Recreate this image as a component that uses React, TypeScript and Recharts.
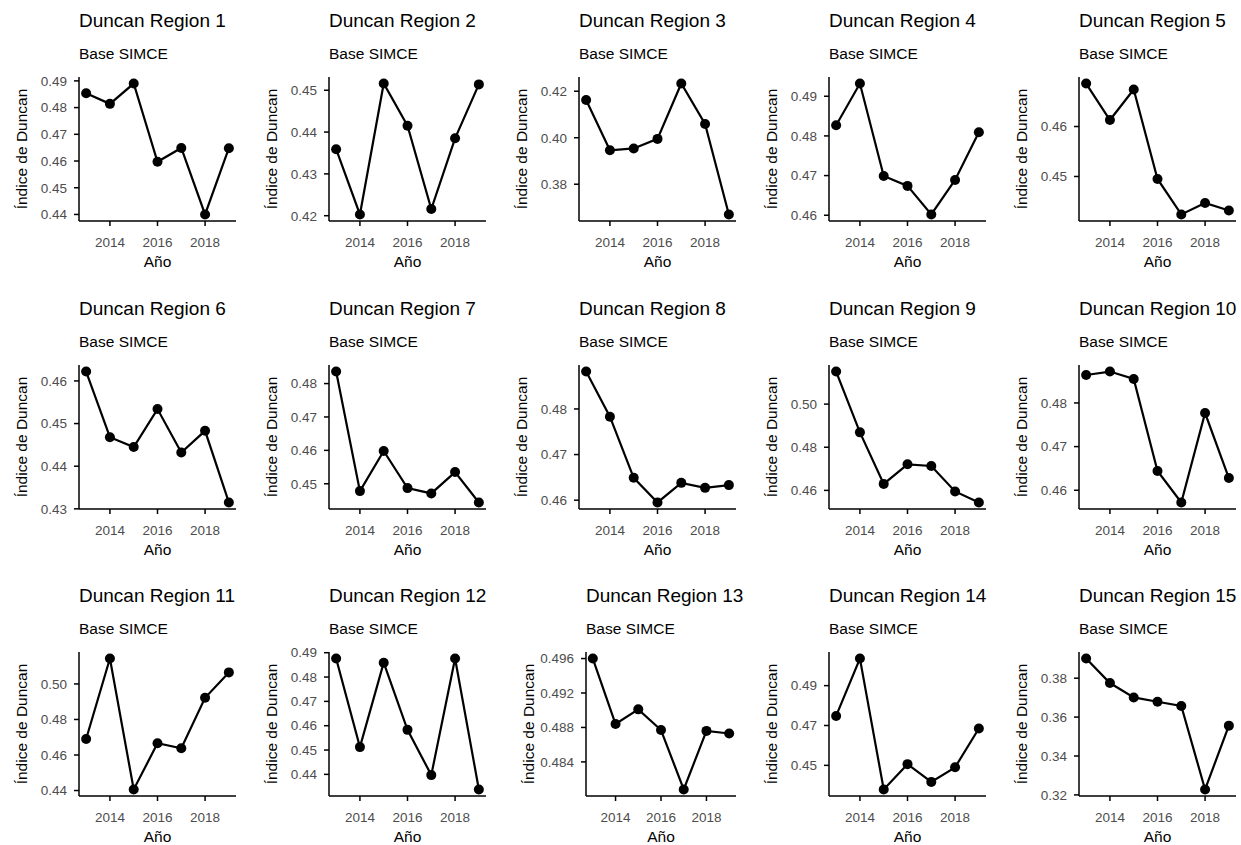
import { LineChart, Line, XAxis, YAxis } from "recharts";

const years = [2013, 2014, 2015, 2016, 2017, 2018, 2019];
const xTicks = [2014, 2016, 2018];
const subtitle = "Base SIMCE";
const xTitle = "Año";
const yTitle = "Índice de Duncan";

// Duncan index per region, 2013..2019
const region1 = [0.4854, 0.4814, 0.489, 0.4597, 0.4649, 0.44, 0.4648];
const region2 = [0.4359, 0.4203, 0.4516, 0.4415, 0.4216, 0.4385, 0.4514];
const region3 = [0.4162, 0.3946, 0.3954, 0.3995, 0.4233, 0.4059, 0.367];
const region4 = [0.4827, 0.4932, 0.4699, 0.4674, 0.4602, 0.4689, 0.4809];
const region5 = [0.4686, 0.4613, 0.4674, 0.4495, 0.4424, 0.4447, 0.4432];
const region6 = [0.4622, 0.4468, 0.4445, 0.4534, 0.4432, 0.4483, 0.4315];
const region7 = [0.4836, 0.4478, 0.4598, 0.4487, 0.4471, 0.4535, 0.4444];
const region8 = [0.4882, 0.4783, 0.4649, 0.4595, 0.4638, 0.4627, 0.4633];
const region9 = [0.5151, 0.4869, 0.463, 0.4721, 0.4713, 0.4595, 0.4544];
const region10 = [0.4864, 0.4872, 0.4855, 0.4644, 0.4572, 0.4777, 0.4628];
const region11 = [0.469, 0.5143, 0.4406, 0.4666, 0.4638, 0.4922, 0.5065];
const region12 = [0.4876, 0.4512, 0.4859, 0.4583, 0.4397, 0.4876, 0.4338];
const region13 = [0.496, 0.4884, 0.4901, 0.4877, 0.4808, 0.4876, 0.4873];
const region14 = [0.4748, 0.5036, 0.4379, 0.4506, 0.4417, 0.449, 0.4685];
const region15 = [0.3901, 0.3775, 0.3701, 0.3679, 0.3657, 0.3228, 0.3556];

// y tick labels per region
const ticks1 = [0.44, 0.45, 0.46, 0.47, 0.48, 0.49];
const ticks2 = [0.42, 0.43, 0.44, 0.45];
const ticks3 = [0.38, 0.4, 0.42];
const ticks4 = [0.46, 0.47, 0.48, 0.49];
const ticks5 = [0.45, 0.46];
const ticks6 = [0.43, 0.44, 0.45, 0.46];
const ticks7 = [0.45, 0.46, 0.47, 0.48];
const ticks8 = [0.46, 0.47, 0.48];
const ticks9 = [0.46, 0.48, 0.5];
const ticks10 = [0.46, 0.47, 0.48];
const ticks11 = [0.44, 0.46, 0.48, 0.5];
const ticks12 = [0.44, 0.45, 0.46, 0.47, 0.48, 0.49];
const ticks13 = [0.484, 0.488, 0.492, 0.496];
const ticks14 = [0.45, 0.47, 0.49];
const ticks15 = [0.32, 0.34, 0.36, 0.38];

const panels = [
  { name: "Duncan Region 1", values: region1, ticks: ticks1, digits: 2 },
  { name: "Duncan Region 2", values: region2, ticks: ticks2, digits: 2 },
  { name: "Duncan Region 3", values: region3, ticks: ticks3, digits: 2 },
  { name: "Duncan Region 4", values: region4, ticks: ticks4, digits: 2 },
  { name: "Duncan Region 5", values: region5, ticks: ticks5, digits: 2 },
  { name: "Duncan Region 6", values: region6, ticks: ticks6, digits: 2 },
  { name: "Duncan Region 7", values: region7, ticks: ticks7, digits: 2 },
  { name: "Duncan Region 8", values: region8, ticks: ticks8, digits: 2 },
  { name: "Duncan Region 9", values: region9, ticks: ticks9, digits: 2 },
  { name: "Duncan Region 10", values: region10, ticks: ticks10, digits: 2 },
  { name: "Duncan Region 11", values: region11, ticks: ticks11, digits: 2 },
  { name: "Duncan Region 12", values: region12, ticks: ticks12, digits: 2 },
  { name: "Duncan Region 13", values: region13, ticks: ticks13, digits: 3 },
  { name: "Duncan Region 14", values: region14, ticks: ticks14, digits: 2 },
  { name: "Duncan Region 15", values: region15, ticks: ticks15, digits: 2 },
];

const colLefts = [0, 250, 500, 750, 1000];
const rowTops = [0, 288, 575];

const W = 250;
const H = 289;
const PLOT_TOP = 77;
const X_AXIS_H = 46;
const MARGIN_BOTTOM = 22;
const MARGIN_RIGHT = 14;

const axisStyle = { stroke: "#000", strokeWidth: 1.5 };

function Panel({ p, left, top }: any) {
  const data = years.map((y, i) => ({ year: y, value: p.values[i] }));
  const axisW = p.digits === 3 ? 86 : 79;
  const yTitleX = axisW - 52;

  return (
    <div style={{ position: "absolute", left, top, width: W, height: H }}>
      <div
        style={{
          position: "absolute",
          left: axisW,
          top: 11,
          fontSize: 19,
          lineHeight: 1,
          whiteSpace: "nowrap",
          color: "#000",
        }}
      >
        {p.name}
      </div>
      <div
        style={{
          position: "absolute",
          left: axisW,
          top: 45.9,
          fontSize: 15.5,
          lineHeight: 1,
          whiteSpace: "nowrap",
          color: "#000",
        }}
      >
        {subtitle}
      </div>
      <LineChart
        width={W}
        height={H}
        data={data}
        margin={{ top: PLOT_TOP, right: MARGIN_RIGHT, bottom: MARGIN_BOTTOM, left: 0 }}
      >
        <XAxis
          dataKey="year"
          type="number"
          domain={[2012.7, 2019.3]}
          ticks={xTicks}
          interval={0}
          height={X_AXIS_H}
          tickSize={5}
          tickMargin={11}
          axisLine={axisStyle}
          tickLine={axisStyle}
          tick={{ fill: "#4d4d4d", fontSize: 13.5 }}
          label={(props: any) => {
            const vb = props.viewBox;
            return (
              <text
                x={vb.x + vb.width / 2}
                y={vb.y + X_AXIS_H}
                textAnchor="middle"
                fontSize={15.5}
                fill="#000"
              >
                {xTitle}
              </text>
            );
          }}
        />
        <YAxis
          type="number"
          width={axisW}
          domain={([lo, hi]: number[]) => {
            const pad = (hi - lo) * 0.05;
            return [lo - pad, hi + pad];
          }}
          ticks={p.ticks}
          interval={0}
          tickSize={5}
          tickMargin={7}
          axisLine={axisStyle}
          tickLine={axisStyle}
          tick={{ fill: "#4d4d4d", fontSize: 13.5 }}
          tickFormatter={(v: number) => v.toFixed(p.digits)}
          label={(props: any) => {
            const vb = props.viewBox;
            const cy = vb.y + vb.height / 2;
            return (
              <text
                x={yTitleX}
                y={cy}
                transform={`rotate(-90, ${yTitleX}, ${cy})`}
                textAnchor="middle"
                fontSize={15.5}
                fill="#000"
              >
                {yTitle}
              </text>
            );
          }}
        />
        <Line
          dataKey="value"
          type="linear"
          stroke="#000"
          strokeWidth={2.2}
          dot={{ r: 5, fill: "#000", stroke: "#000", strokeWidth: 0 }}
          activeDot={false}
          isAnimationActive={false}
        />
      </LineChart>
    </div>
  );
}

export default function App() {
  return (
    <div
      style={{
        position: "absolute",
        left: 0,
        top: 0,
        width: 1241,
        height: 845,
        overflow: "hidden",
        background: "#fff",
        fontFamily: '"Liberation Sans", Arial, sans-serif',
      }}
    >
      {panels.map((p, i) => (
        <Panel key={p.name} p={p} left={colLefts[i % 5]} top={rowTops[Math.floor(i / 5)]} />
      ))}
    </div>
  );
}
